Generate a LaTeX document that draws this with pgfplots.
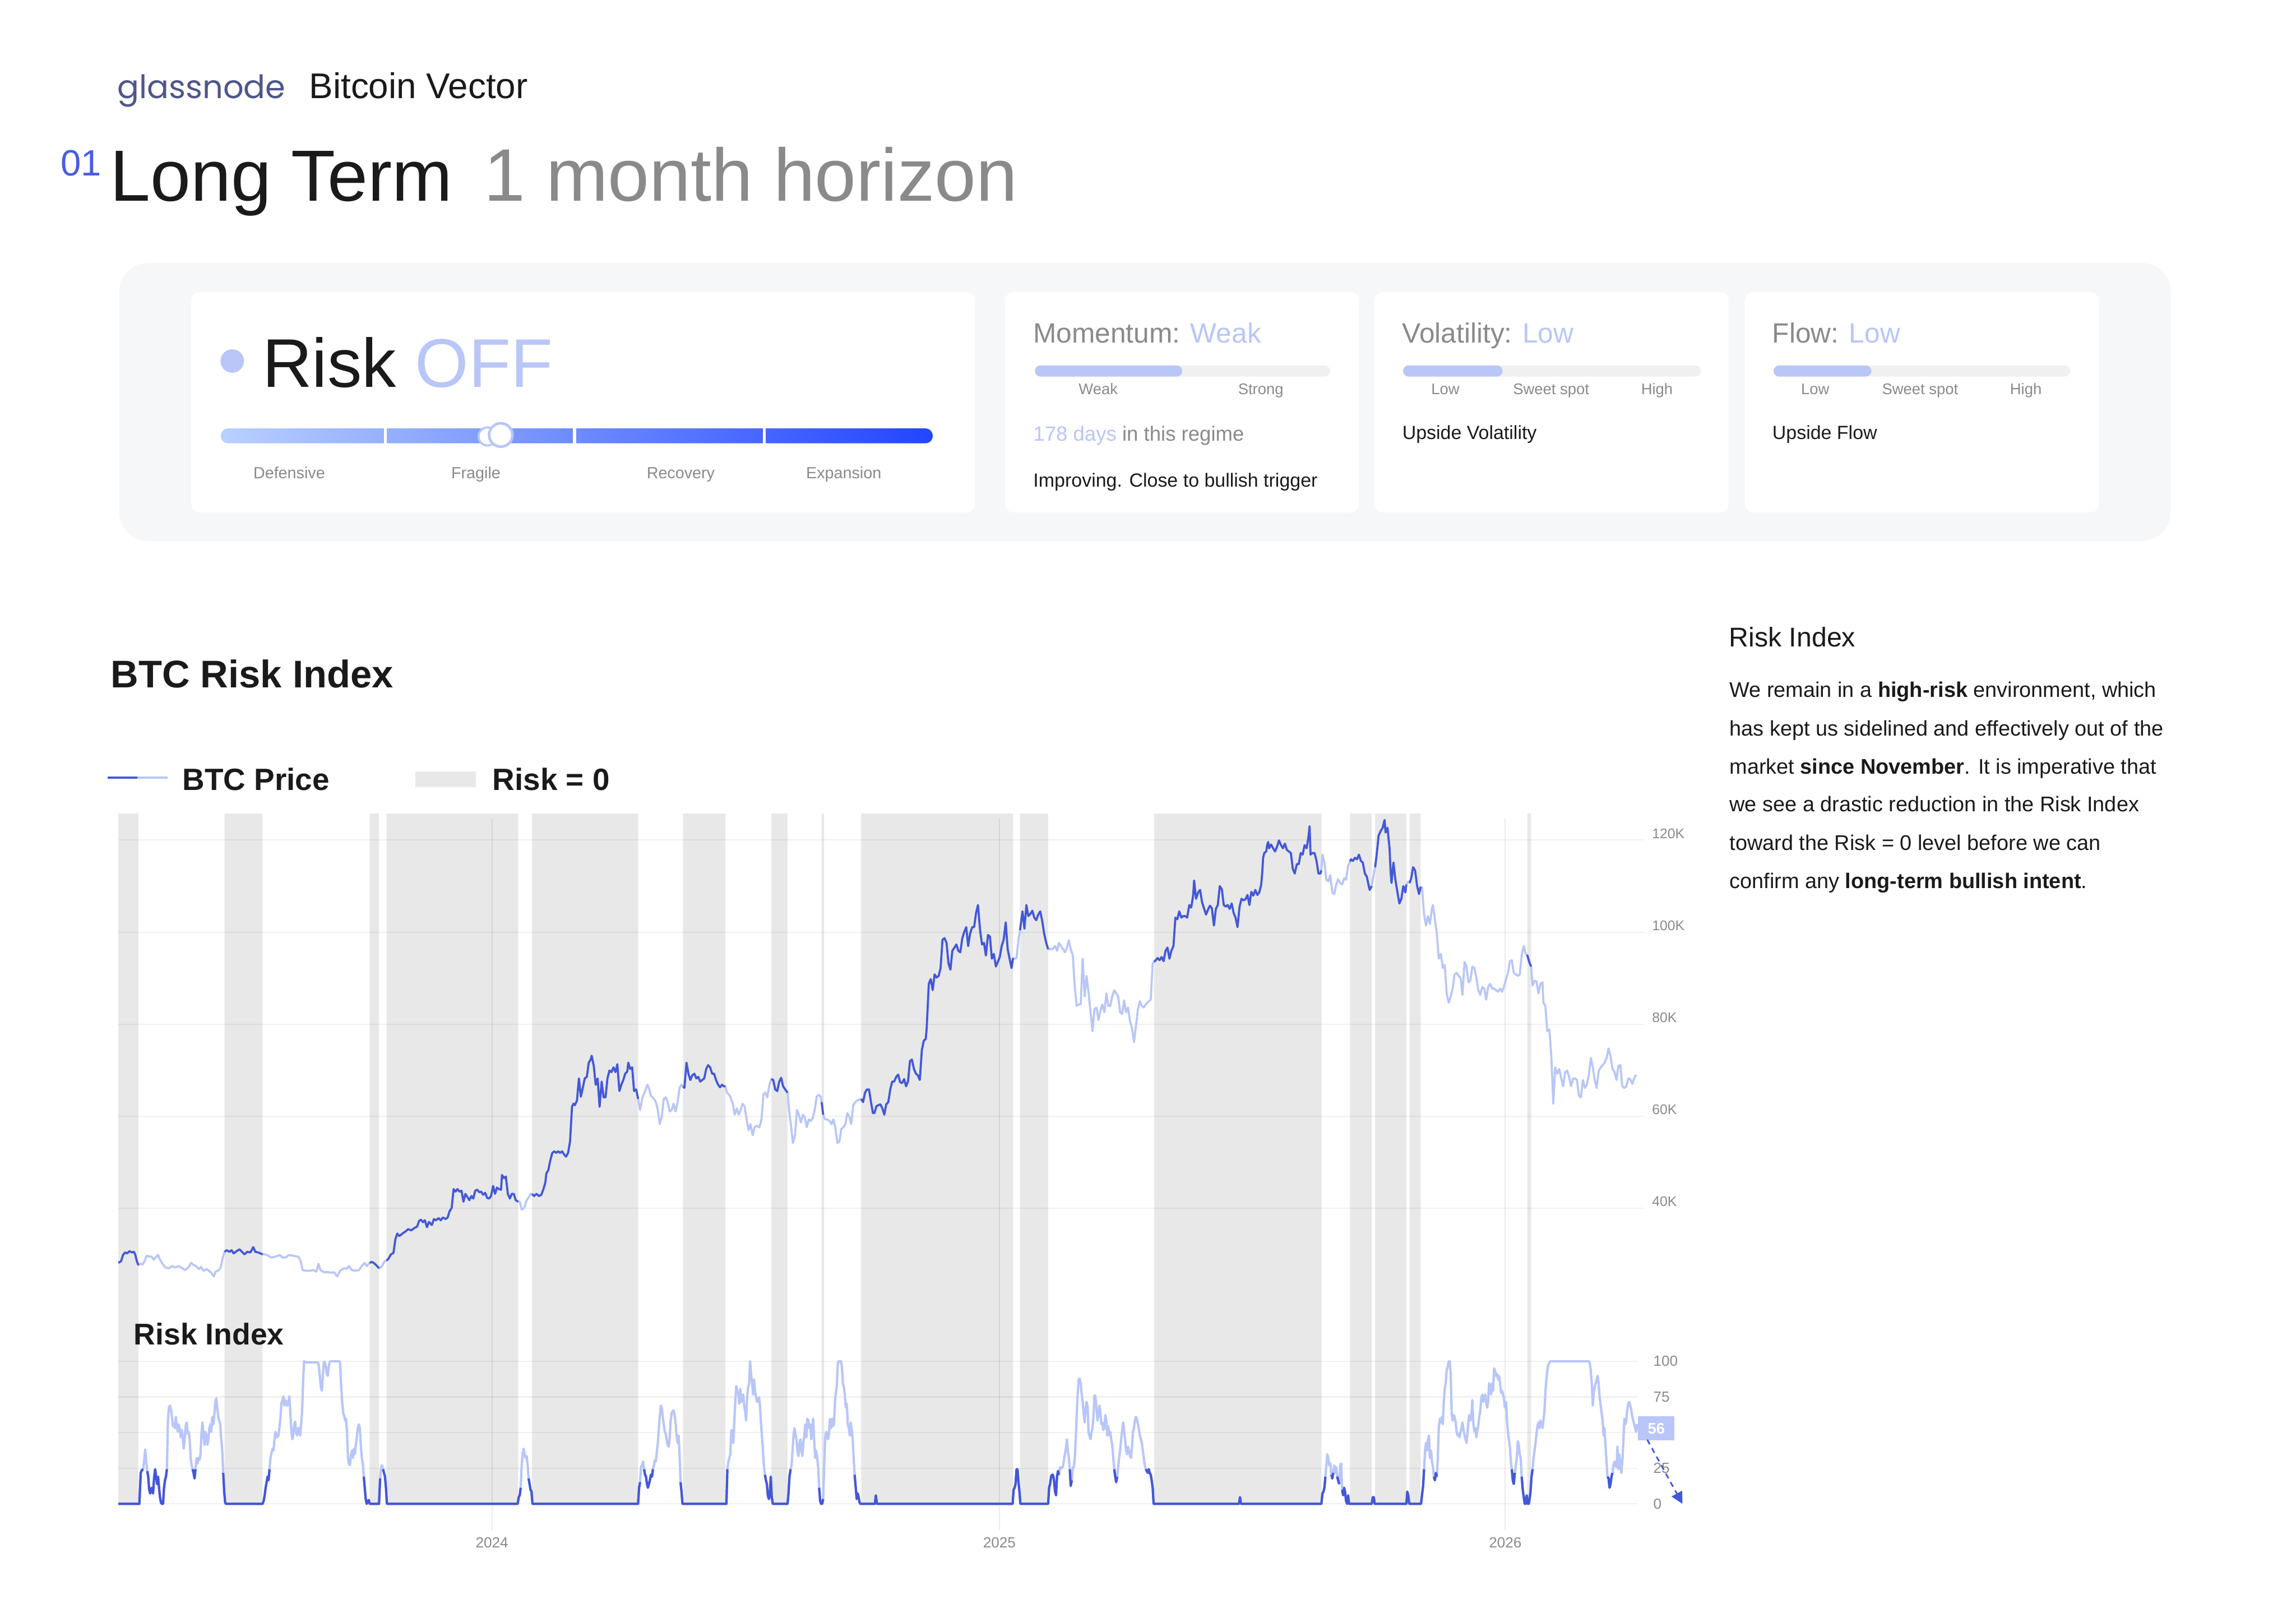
\documentclass[border=0pt]{standalone}
\usepackage{fontspec}
\setmainfont{Liberation Sans}
\newfontfamily\poppins{Poppins}
\usepackage{pgfplots}
\pgfplotsset{compat=1.18}
\usepackage{pgfplotstable}
\usetikzlibrary{arrows.meta}
\definecolor{dblue}{HTML}{4358D8}
\definecolor{lblue}{HTML}{B8C6F8}
\definecolor{bandgray}{HTML}{E8E8E8}
\definecolor{panelbg}{HTML}{F6F7F9}
\definecolor{txtgray}{HTML}{8A8A8A}
\definecolor{darktxt}{HTML}{1A1A1A}
\definecolor{gnode}{HTML}{4E568A}
\definecolor{numblue}{HTML}{4A5DE0}
\definecolor{track}{HTML}{F0F0F0}
\definecolor{slA}{HTML}{B9D0FF}
\definecolor{slB}{HTML}{2245FF}
\newcommand{\fs}[1]{\fontsize{#1}{#1}\selectfont}

\pgfplotstableread{
d p m
-269.6 28.15 1
-267.6 28.49 1
-266.2 29.86 1
-264.7 30.41 1
-263.3 30.20 1
-261.5 30.68 1
-259.8 30.41 1
-258.3 30.55 1
-257.3 29.86 1
-256.2 28.49 1
-255.1 27.67 1
-253.4 27.95 0
-251.9 27.81 0
-250.5 28.63 0
-249.1 29.72 0
-247.3 29.52 0
-245.5 29.52 0
-244.1 28.83 0
-242.7 29.31 0
-240.9 29.86 0
-239.5 28.83 0
-237.7 27.95 0
-235.6 27.12 0
-233.1 26.98 0
-230.6 27.46 0
-228.4 27.12 0
-226.0 27.46 0
-223.5 26.98 0
-221.3 26.57 0
-218.8 27.26 0
-217.1 28.15 0
-215.3 27.67 0
-213.5 27.46 0
-211.4 26.78 0
-209.9 27.26 0
-208.2 26.44 0
-205.7 26.78 0
-202.8 26.09 0
-200.7 25.20 0
-199.3 26.30 0
-197.5 26.44 0
-195.7 27.12 0
-194.3 29.18 0
-192.9 30.55 1
-191.4 30.89 1
-189.3 30.55 1
-187.9 30.89 1
-186.4 30.20 1
-184.3 30.68 1
-182.2 31.09 1
-180.8 30.68 1
-178.6 30.00 1
-176.5 30.55 1
-174.3 30.41 1
-172.2 31.57 1
-170.8 30.55 1
-168.7 30.41 1
-165.5 30.00 1
-163.7 30.00 0
-161.5 29.72 0
-159.4 29.31 0
-156.6 29.45 0
-153.0 29.86 0
-151.2 29.31 0
-148.7 29.31 0
-146.6 29.86 0
-144.1 29.72 0
-141.6 29.59 0
-139.5 29.45 0
-138.0 28.49 0
-136.6 26.57 0
-134.5 26.44 0
-131.6 26.44 0
-128.8 26.57 0
-126.7 26.23 0
-125.2 27.95 0
-123.8 26.57 0
-121.0 26.09 0
-118.8 26.16 0
-116.0 26.02 0
-113.8 26.09 0
-111.7 25.20 0
-109.6 26.44 0
-106.7 26.98 0
-104.6 26.85 0
-103.2 27.46 0
-101.0 26.57 0
-98.9 26.44 0
-96.0 26.57 0
-93.9 27.46 0
-91.8 28.15 0
-90.4 27.46 0
-88.2 28.15 1
-86.8 28.35 1
-85.4 28.15 1
-83.6 27.67 1
-81.5 26.98 1
-79.7 27.26 0
-77.5 28.49 0
-76.1 28.63 1
-74.7 29.04 1
-72.9 30.00 1
-71.1 30.28 1
-69.7 33.29 1
-68.3 34.52 1
-66.9 33.97 1
-65.4 34.31 1
-64.0 34.66 1
-62.2 35.00 1
-60.5 35.48 1
-58.3 35.20 1
-56.2 35.68 1
-54.0 36.03 1
-52.6 37.26 1
-51.2 37.53 1
-49.8 36.98 1
-48.4 37.39 1
-46.9 35.89 1
-45.5 37.05 1
-43.4 36.37 1
-41.9 37.67 1
-40.5 37.39 1
-38.4 37.87 1
-37.0 37.39 1
-35.5 38.00 1
-33.4 37.67 1
-32.0 38.00 1
-30.6 39.37 1
-29.1 40.06 1
-27.7 44.17 1
-26.3 43.62 1
-24.9 44.17 1
-23.4 43.62 1
-22.0 43.83 1
-20.6 41.43 1
-19.2 43.14 1
-17.8 42.46 1
-16.3 41.77 1
-14.9 42.66 1
-13.5 42.12 1
-12.1 43.83 1
-10.6 44.03 1
-9.2 43.49 1
-7.8 43.62 1
-6.4 42.94 1
-4.9 43.35 1
-3.5 42.25 1
-2.1 42.12 1
-0.7 42.66 1
0.8 44.85 1
2.2 43.14 1
3.6 44.51 1
5.0 44.17 1
6.5 44.03 1
7.2 47.24 1
8.6 46.56 1
10.0 46.90 1
11.4 43.14 1
12.9 42.12 1
14.3 43.14 1
15.7 43.14 1
17.1 41.77 1
18.9 41.43 1
20.0 41.43 0
21.4 39.72 0
23.2 40.06 0
25.0 41.77 0
26.7 42.46 0
27.8 43.14 0
28.9 43.14 1
30.3 42.66 1
32.1 43.14 1
33.9 42.66 1
35.6 42.94 1
37.1 44.17 1
38.5 45.62 1
39.2 47.59 1
40.6 48.27 1
42.0 50.33 1
43.5 52.04 1
44.9 52.38 1
46.3 52.04 1
47.7 52.38 1
49.2 52.04 1
50.6 52.38 1
52.0 51.70 1
53.4 51.22 1
54.9 52.04 1
56.3 54.52 1
57.7 62.05 1
58.8 62.74 1
59.8 62.40 1
61.3 63.43 1
62.7 68.22 1
64.1 64.25 1
65.5 66.16 1
66.9 68.22 1
68.4 68.56 1
69.8 71.64 1
71.2 72.33 1
71.9 73.15 1
73.4 70.96 1
74.8 66.85 1
76.2 68.22 1
77.6 62.05 1
79.1 67.53 1
80.5 64.11 1
81.9 64.11 1
83.3 68.22 1
84.7 69.93 1
86.2 69.59 1
87.6 70.62 1
89.0 69.59 1
90.4 71.30 1
91.9 65.48 1
93.3 66.85 1
94.7 67.88 1
96.1 69.25 1
97.6 69.73 1
98.3 71.64 1
99.7 70.27 1
101.1 70.62 1
102.5 65.48 1
104.0 65.82 1
105.4 63.77 1
106.8 61.37 0
108.6 64.11 0
110.4 65.48 0
112.2 66.85 0
113.2 66.16 0
114.6 64.45 0
116.8 63.77 0
118.2 63.08 0
119.6 61.37 0
121.0 58.29 0
122.5 60.00 0
123.9 63.77 0
125.3 64.11 0
126.7 63.08 0
128.2 61.03 0
129.6 61.37 0
131.0 62.74 0
132.4 61.03 0
133.9 63.08 0
135.3 66.16 0
136.7 66.85 0
137.8 66.51 1
138.8 66.16 1
140.3 71.64 1
141.7 69.25 1
143.1 67.88 1
144.5 68.90 1
146.0 69.25 1
147.4 68.22 1
148.8 68.56 1
150.2 67.53 1
151.7 67.88 1
153.1 68.22 1
154.5 70.27 1
155.9 71.10 1
157.4 70.62 1
158.8 69.25 1
160.2 69.25 1
161.6 67.88 1
163.1 66.85 1
164.5 66.30 1
165.9 66.85 1
167.3 66.51 1
168.4 66.51 1
169.5 65.14 0
171.6 64.45 0
173.7 62.74 0
175.1 60.34 0
176.6 61.71 0
178.0 60.34 0
179.4 61.37 0
180.8 62.74 0
182.3 62.05 0
183.7 59.31 0
185.1 56.92 0
186.5 58.29 0
188.0 55.89 0
189.4 57.60 0
190.8 57.94 0
192.9 57.60 0
194.4 59.31 0
195.8 64.79 0
197.2 65.14 0
198.6 64.11 0
200.1 66.85 0
201.5 68.08 1
202.9 67.88 1
204.3 65.82 1
205.8 65.48 1
207.2 67.53 1
208.6 68.36 1
210.0 66.51 1
211.5 65.82 1
213.2 65.14 1
214.3 61.37 0
215.7 57.94 0
217.1 54.18 0
218.6 55.89 0
220.0 61.37 0
221.4 60.34 0
222.8 58.63 0
224.3 60.34 0
225.7 59.66 0
227.1 57.60 0
228.5 59.31 0
230.0 58.97 0
231.4 59.66 0
232.8 61.37 0
234.2 64.25 0
235.7 64.66 0
237.1 64.25 0
237.8 63.08 1
238.9 60.34 1
239.6 59.66 0
240.6 59.31 0
242.1 59.31 0
243.5 58.97 0
244.9 58.29 0
246.3 59.31 0
247.8 57.26 0
249.2 54.18 0
250.6 54.52 0
252.0 57.26 0
253.5 57.60 0
254.9 58.29 0
256.3 60.68 0
257.7 60.00 0
259.1 58.29 0
260.6 62.40 0
262.0 63.08 0
263.4 63.43 0
264.8 63.56 0
266.3 63.77 1
267.7 63.08 1
269.1 65.14 1
270.5 65.82 1
272.0 65.82 1
273.4 63.08 1
274.8 60.68 1
275.9 60.68 1
277.3 62.19 1
278.7 62.40 1
280.2 62.60 1
281.6 61.71 1
283.0 60.34 1
284.4 62.60 1
285.9 63.08 1
287.3 65.82 1
288.7 67.53 1
290.1 67.53 1
291.6 68.56 1
293.0 69.04 1
294.4 67.40 1
295.8 67.19 1
297.3 68.08 1
298.7 66.51 1
300.1 67.53 1
301.5 71.98 1
302.9 72.33 1
304.4 70.27 1
305.8 69.25 1
307.2 68.90 1
308.6 67.88 1
310.1 74.38 1
311.5 76.44 1
312.9 76.78 1
313.6 79.18 1
315.1 88.77 1
316.5 89.79 1
317.9 87.40 1
319.3 90.82 1
320.7 90.14 1
322.2 90.48 1
323.6 92.19 1
325.0 98.35 1
326.4 98.70 1
327.9 97.67 1
329.3 93.22 1
330.7 91.85 1
332.1 95.96 1
333.6 96.64 1
335.0 97.33 1
336.4 95.96 1
337.8 95.61 1
339.3 98.70 1
340.7 100.07 1
342.1 101.09 1
343.5 96.98 1
344.9 99.72 1
346.4 101.09 1
347.8 101.09 1
349.2 104.18 1
350.6 105.89 1
352.1 100.41 1
353.5 97.33 1
354.9 97.67 1
356.3 94.93 1
357.8 99.38 1
359.2 99.04 1
360.6 94.24 1
362.0 95.27 1
363.5 92.53 1
364.9 93.56 1
366.3 94.59 1
367.7 97.01 1
369.1 98.35 1
370.6 102.12 1
372.0 96.30 1
373.4 94.24 1
374.8 92.19 1
375.9 94.38 1
377.0 94.24 0
378.4 94.38 0
379.8 98.35 0
380.9 100.41 1
382.7 104.52 1
384.1 100.75 1
385.5 105.89 1
386.9 103.49 1
388.4 103.97 1
389.8 104.66 1
391.2 103.15 1
392.6 102.60 1
394.1 103.83 1
395.5 104.52 1
396.9 102.46 1
398.3 99.72 1
399.8 97.67 1
401.2 96.30 1
402.6 96.30 0
404.0 96.30 0
406.2 96.98 0
407.6 95.96 0
409.0 97.67 0
410.4 96.98 0
411.9 96.30 0
413.3 95.61 0
414.7 96.64 0
416.1 98.22 0
417.5 96.30 0
419.0 94.93 0
420.4 88.08 0
421.8 83.97 0
423.2 84.31 0
424.7 84.31 0
426.1 94.24 0
427.5 86.03 0
428.9 90.48 0
430.4 86.71 0
431.8 82.60 0
433.2 78.49 0
434.6 83.29 0
436.1 83.63 0
437.5 80.89 0
438.9 82.94 0
440.3 84.31 0
441.8 82.60 0
443.2 86.71 0
444.6 83.97 0
446.0 83.97 0
447.4 86.03 0
448.9 87.40 0
450.3 86.71 0
451.7 86.03 0
453.1 82.60 0
454.6 82.26 0
456.0 85.20 0
457.4 82.60 0
458.8 83.63 0
460.3 80.55 0
461.7 79.18 0
463.1 76.10 0
464.5 79.52 0
466.0 83.29 0
467.4 84.99 0
468.8 83.97 0
470.2 83.63 0
471.6 84.31 0
473.1 84.79 0
475.2 85.34 0
476.6 93.22 0
477.7 93.56 1
478.8 93.90 1
480.2 94.38 1
481.6 93.90 1
483.0 94.59 1
484.5 93.70 1
485.9 95.96 1
487.3 96.64 1
488.7 94.24 1
490.1 95.96 1
491.6 96.98 1
493.0 103.15 1
494.4 102.81 1
495.8 104.52 1
497.3 103.15 1
498.7 103.49 1
500.1 103.49 1
501.5 103.15 1
503.0 105.89 1
504.4 105.34 1
505.8 107.94 1
506.5 111.23 1
507.9 107.26 1
509.4 108.63 1
510.8 109.18 1
512.2 106.57 1
513.6 105.20 1
515.1 103.83 1
516.5 104.86 1
517.9 105.75 1
519.3 105.20 1
520.8 101.44 1
522.2 105.07 1
523.6 105.89 1
525.0 110.00 1
526.5 109.31 1
527.9 105.89 1
529.3 105.55 1
530.7 105.89 1
532.1 105.07 1
533.6 106.23 1
535.0 104.18 1
536.4 103.15 1
537.8 101.09 1
539.3 105.55 1
540.7 107.26 1
542.1 106.92 1
543.5 107.12 1
545.0 108.08 1
546.4 105.89 1
547.8 108.76 1
549.2 107.94 1
550.7 109.18 1
552.1 108.08 1
553.5 108.63 1
554.9 110.34 1
555.6 112.74 1
556.3 116.16 1
557.1 117.19 1
558.5 117.53 1
559.2 118.90 1
559.9 119.59 1
560.6 118.22 1
562.0 119.04 1
563.5 118.22 1
564.9 117.53 1
566.3 118.56 1
567.7 119.93 1
569.2 118.90 1
570.6 118.22 1
572.0 119.24 1
573.4 117.87 1
574.9 117.53 1
576.3 117.19 1
577.7 113.76 1
579.1 112.74 1
580.6 114.79 1
582.0 114.79 1
583.4 117.19 1
584.8 116.85 1
586.2 118.90 1
587.7 118.22 1
589.1 120.96 1
589.8 123.01 1
590.5 116.85 1
591.9 117.19 1
593.4 117.19 1
594.8 115.48 1
596.2 112.74 1
597.6 112.74 1
598.3 113.42 1
599.1 116.85 0
600.5 115.13 0
601.9 111.37 0
603.3 111.03 0
604.7 112.39 0
606.2 108.63 0
607.6 108.29 0
609.0 110.34 0
610.4 111.50 0
611.9 110.68 0
613.3 110.34 0
614.7 111.71 0
616.1 111.37 0
617.6 114.45 0
619.0 115.34 1
619.7 115.82 1
621.1 115.48 1
622.5 116.16 1
624.0 115.82 1
625.4 116.85 1
626.8 115.48 1
628.2 115.13 1
629.7 112.74 1
631.1 112.05 1
632.5 110.00 1
633.2 109.18 1
634.6 110.00 1
636.1 112.74 0
637.1 114.11 1
638.2 116.85 1
639.6 120.96 1
641.1 121.98 1
642.5 122.67 1
643.9 124.38 1
644.6 121.64 1
646.0 122.67 1
647.5 118.22 1
648.2 113.42 1
648.9 110.68 1
650.3 115.13 1
651.7 111.37 1
653.2 108.63 1
654.6 106.23 1
656.0 107.26 1
657.4 110.00 1
658.9 108.63 1
659.6 110.34 1
661.0 111.03 0
662.0 110.68 1
663.1 111.71 1
664.5 114.11 1
665.9 113.42 1
667.4 110.00 1
668.8 108.29 1
669.9 109.86 1
670.9 109.65 0
672.4 103.83 0
673.8 101.44 0
675.2 103.49 0
676.6 101.78 0
678.1 105.20 0
678.8 105.89 0
680.2 102.81 0
681.6 99.72 0
683.0 94.24 0
684.5 95.27 0
685.9 92.19 0
687.3 92.88 0
688.7 86.71 0
690.2 84.66 0
691.6 86.03 0
693.0 87.74 0
694.4 90.82 0
695.9 91.16 0
697.3 90.48 0
698.7 90.14 0
700.1 86.37 0
701.6 93.56 0
703.0 92.53 0
704.4 89.11 0
705.8 89.45 0
707.2 92.53 0
708.7 92.19 0
710.1 90.14 0
711.5 87.40 0
712.9 86.37 0
714.4 88.08 0
715.8 87.74 0
717.2 85.34 0
718.6 88.08 0
720.1 88.77 0
721.5 87.74 0
722.9 87.74 0
724.3 87.40 0
725.8 87.05 0
727.2 87.74 0
728.6 87.05 0
730.0 88.08 0
731.5 89.79 0
732.9 91.16 0
734.3 93.70 0
735.7 93.90 0
737.1 91.16 0
738.6 90.82 0
740.0 90.48 0
741.4 90.82 0
742.8 94.93 0
744.3 96.98 0
745.7 95.27 0
746.8 95.07 1
748.2 93.56 1
749.6 92.53 1
750.7 88.42 0
752.1 89.45 0
753.5 89.31 0
754.9 86.71 0
756.4 88.77 0
757.8 89.11 0
758.5 84.66 0
759.9 83.97 0
761.3 78.49 0
762.8 78.84 0
764.2 73.01 0
765.6 62.74 0
767.0 70.62 0
768.5 69.25 0
769.9 70.27 0
771.3 68.22 0
772.7 66.51 0
774.2 69.59 0
775.6 69.93 0
777.0 68.56 0
778.4 66.51 0
779.9 68.22 0
781.3 68.22 0
782.7 67.88 0
784.1 64.45 0
785.5 64.11 0
787.0 67.88 0
788.4 66.16 0
789.8 66.85 0
791.2 68.90 0
792.7 72.67 0
794.1 70.62 0
795.5 67.88 0
796.9 66.16 0
798.4 69.93 0
799.8 70.62 0
801.2 71.10 0
802.6 71.64 0
804.1 72.67 0
805.5 74.73 0
806.9 73.01 0
808.3 70.27 0
809.8 69.59 0
811.2 67.88 0
812.6 70.96 0
814.0 71.10 0
815.4 66.51 0
816.9 66.16 0
818.3 66.51 0
819.7 68.22 0
821.1 68.08 0
822.6 66.99 0
824.0 68.22 0
825.4 69.04 0
}\pricedata

\pgfplotstableread{
d r
-269.6 0
-254.4 0
-253.4 21.7
-252.6 23.7
-251.6 24.3
-250.9 30.9
-250.2 38.1
-249.4 29.6
-248.7 23.0
-248.0 19.1
-247.3 9.9
-246.6 7.3
-245.5 11.3
-244.5 7.3
-243.7 19.1
-243.0 24.3
-242.3 19.1
-241.6 13.9
-240.9 19.1
-240.2 11.3
-239.5 4.7
-238.8 0.8
-238.1 0
-237.3 0
-236.6 11.3
-235.9 16.5
-235.2 19.1
-234.5 24.3
-233.8 58.4
-233.1 67.5
-232.4 68.9
-231.6 66.2
-230.9 61.0
-230.2 54.5
-229.5 55.8
-228.8 53.1
-228.1 61.0
-227.4 54.5
-226.7 50.5
-226.0 55.8
-225.2 51.8
-224.5 46.6
-223.8 51.8
-223.1 46.6
-222.4 38.7
-221.7 45.3
-221.0 54.5
-220.3 57.1
-219.5 49.2
-218.8 50.5
-218.1 45.3
-217.4 32.2
-216.7 27.0
-216.0 24.3
-215.3 21.7
-214.6 17.8
-213.9 24.3
-213.1 32.2
-212.4 28.3
-211.7 32.2
-211.0 30.9
-210.3 34.8
-209.6 49.2
-208.9 57.1
-208.2 49.2
-207.4 41.4
-206.7 50.5
-206.0 47.9
-205.3 41.4
-204.6 45.3
-203.9 53.1
-203.2 55.8
-202.5 50.5
-201.8 61.0
-201.0 55.8
-200.3 62.3
-199.6 71.5
-198.9 74.1
-198.2 67.5
-197.5 61.0
-196.8 58.4
-196.1 55.8
-195.3 45.3
-194.6 37.4
-193.9 21.7
-193.2 8.6
-192.5 0.8
-191.8 0
-165.5 0
-164.7 2.1
-164.0 6.0
-163.3 11.3
-162.6 15.2
-161.9 19.1
-161.2 16.5
-160.5 24.3
-159.8 32.2
-159.0 36.1
-158.3 38.7
-157.6 37.4
-156.9 45.3
-156.2 50.5
-155.5 47.9
-154.8 46.6
-154.1 47.9
-153.4 53.1
-152.6 61.0
-151.9 70.2
-151.2 72.8
-150.5 75.4
-149.8 68.9
-149.1 72.8
-148.4 71.5
-147.7 68.9
-146.9 71.5
-146.2 75.4
-145.5 64.9
-144.8 51.8
-144.1 45.3
-143.4 47.9
-142.7 55.8
-142.0 57.7
-141.2 49.2
-140.5 47.9
-139.8 53.1
-139.1 53.1
-138.4 47.9
-137.7 55.8
-137.0 64.9
-136.3 84.6
-135.6 100
-134.8 99.6
-133.4 99.2
-126.3 99.2
-125.6 99.2
-124.9 96.3
-124.2 89.8
-123.5 81.9
-122.7 79.3
-122.0 89.8
-121.3 99.6
-120.6 99.2
-119.9 96.3
-119.2 91.1
-118.5 89.8
-117.8 96.3
-117.0 99.6
-116.3 100
-110.3 100
-109.6 99.2
-108.9 84.6
-108.1 71.5
-107.4 63.6
-106.7 62.3
-106.0 58.4
-105.3 59.7
-104.6 50.5
-103.9 32.2
-103.2 28.3
-102.5 27.0
-101.7 34.8
-101.0 37.4
-100.3 32.2
-99.6 38.7
-98.9 34.8
-98.2 41.4
-97.5 46.6
-96.8 53.1
-96.1 55.8
-95.3 53.1
-94.6 40.1
-93.9 32.2
-93.2 28.3
-92.5 19.1
-91.8 11.3
-91.1 3.4
-90.4 0
-89.6 2.1
-88.9 2.7
-88.2 0
-81.5 0
-80.7 17.8
-80.0 25.7
-79.3 27.0
-78.6 24.3
-77.9 21.7
-77.2 19.1
-76.5 11.3
-75.8 0
18.5 0
19.3 4.7
20.0 6.0
20.7 11.3
21.4 27.0
22.1 34.8
22.8 38.7
23.5 34.8
24.2 32.2
25.0 33.5
25.7 27.0
26.4 17.8
27.1 13.9
27.8 9.9
28.5 8.6
29.2 0
105.4 0
106.1 11.3
106.8 15.2
107.5 25.7
108.2 27.0
109.0 29.6
109.7 24.3
110.4 20.4
111.1 19.1
111.8 13.9
112.5 11.3
113.2 13.9
113.9 16.5
114.6 20.4
115.4 19.1
116.1 24.3
116.8 27.0
117.5 30.9
118.2 29.6
118.9 36.1
119.6 42.7
120.3 51.8
121.0 61.0
121.8 68.9
122.5 67.5
123.2 61.0
123.9 55.8
124.6 50.5
125.3 49.2
126.0 45.3
126.7 41.4
127.5 40.1
128.2 46.6
128.9 58.4
129.6 63.6
130.3 64.9
131.0 65.6
131.7 62.3
132.4 57.1
133.1 47.9
133.9 42.7
134.6 47.9
135.3 34.8
136.0 15.2
136.7 8.6
137.4 0
169.1 0
169.8 24.3
170.5 29.6
171.2 32.2
171.9 34.8
172.7 51.8
173.4 47.9
174.1 42.7
174.8 58.4
175.5 71.5
176.2 82.6
176.9 79.3
177.6 78.0
178.4 70.2
179.1 80.6
179.8 71.5
180.5 75.4
181.2 76.7
181.9 68.9
182.6 64.9
183.3 58.4
184.1 75.4
184.8 81.9
185.5 84.6
186.2 100
186.9 91.1
187.6 84.6
188.3 76.7
189.0 87.2
189.7 79.3
190.4 75.4
191.2 71.5
191.9 72.8
192.6 74.7
193.3 68.9
194.0 57.1
194.7 47.9
195.4 38.7
196.1 27.0
196.9 20.4
197.6 16.5
198.3 13.9
199.0 6.0
199.7 3.4
200.4 6.0
201.1 19.1
201.8 4.7
202.6 0
213.2 0
213.9 7.3
214.6 19.1
215.4 24.3
216.1 27.0
216.8 37.4
217.5 47.9
218.2 53.1
218.9 49.2
219.6 45.3
220.3 37.4
221.1 33.5
221.8 42.7
222.5 45.3
223.2 37.4
223.9 33.5
224.6 42.7
225.3 47.9
226.0 55.8
226.8 46.6
227.5 59.7
228.2 58.4
228.9 53.1
229.6 55.8
230.3 45.3
231.0 53.1
231.7 59.7
232.5 42.7
233.2 32.2
233.9 37.4
234.6 32.2
235.3 25.7
236.0 11.3
236.7 2.1
237.4 0
238.1 0
238.9 3.4
239.6 25.7
240.3 45.3
241.0 50.5
241.7 49.2
242.4 45.3
243.1 49.2
243.8 59.7
244.6 53.1
245.3 59.7
246.0 54.5
246.7 55.8
247.4 71.5
248.1 78.0
248.8 83.3
249.5 99.0
250.2 100
251.0 99.6
251.7 100
252.4 96.3
253.1 84.6
253.8 81.9
254.5 76.7
255.2 67.5
255.9 70.2
256.7 55.8
257.4 53.1
258.1 47.9
258.8 57.1
259.5 51.8
260.2 45.3
260.9 32.2
261.6 20.4
262.4 11.3
263.1 3.4
263.8 7.3
264.5 4.7
265.2 0.8
265.9 0
276.2 0
276.9 6.0
277.7 0
375.6 0
376.3 9.9
377.0 11.3
377.7 13.9
378.4 24.3
379.1 24.3
379.8 15.2
380.5 8.6
381.2 0
401.2 0
401.9 11.3
402.6 13.9
403.3 19.1
404.0 20.4
404.7 20.4
405.4 16.5
406.2 8.6
406.9 6.0
407.6 19.1
408.3 23.0
409.0 20.4
409.7 25.7
410.4 24.3
411.1 25.7
411.9 25.7
412.6 30.9
413.3 34.8
414.0 38.7
414.7 45.3
415.4 37.4
416.1 32.2
416.8 24.3
417.5 12.6
418.3 16.5
419.0 25.7
419.7 25.7
420.4 32.2
421.1 45.3
421.8 62.3
422.5 76.7
423.2 87.2
423.9 87.8
424.7 84.6
425.4 76.7
426.1 71.5
426.8 63.6
427.5 57.1
428.2 66.2
428.9 71.5
429.6 68.9
430.4 49.2
431.1 47.9
431.8 45.3
432.5 50.5
433.2 53.1
433.9 61.0
434.6 76.1
435.3 75.4
436.1 66.2
436.8 58.4
437.5 63.6
438.2 68.9
438.9 63.6
439.6 55.8
440.3 57.1
441.0 51.8
441.8 53.1
442.5 62.3
443.2 58.4
443.9 47.9
444.6 54.5
445.3 47.9
446.0 50.5
446.7 45.3
447.4 41.4
448.2 32.2
448.9 24.3
449.6 19.1
450.3 15.2
451.0 19.1
451.7 25.7
452.4 32.2
453.1 37.4
453.9 45.3
454.6 51.8
455.3 57.1
456.0 51.8
456.7 45.3
457.4 37.4
458.1 34.8
458.8 40.1
459.5 37.4
460.3 33.5
461.0 32.2
461.7 40.1
462.4 50.5
463.1 53.1
463.8 58.4
464.5 61.0
465.2 59.7
466.0 55.8
466.7 51.8
467.4 47.9
468.1 45.3
468.8 42.7
469.5 37.4
470.2 32.2
470.9 27.0
471.6 24.3
472.4 23.0
473.1 21.7
473.8 24.3
474.5 21.7
475.2 20.4
475.9 16.5
476.6 11.3
477.3 0
538.9 0
539.6 4.7
540.3 0
598.3 0
599.1 7.3
599.8 8.6
600.5 11.3
601.2 19.1
601.9 27.0
602.6 34.8
603.3 32.2
604.0 27.0
604.8 28.3
605.5 20.4
606.2 17.8
606.9 21.7
607.6 27.0
608.3 21.7
609.0 25.7
609.7 19.1
610.4 16.5
611.2 13.9
611.9 27.0
612.6 28.3
613.3 9.9
614.0 6.0
614.7 11.3
615.4 8.6
616.1 2.1
616.9 0
617.6 6.0
618.3 0
634.6 0
635.4 4.7
636.1 4.7
636.8 0
659.6 0
660.3 8.6
661.0 6.0
661.7 0
670.2 0
670.9 6.0
671.7 12.6
672.4 24.3
673.1 37.4
673.8 42.7
674.5 37.4
675.2 45.3
675.9 47.9
676.6 32.2
677.4 37.4
678.1 29.6
678.8 25.7
679.5 19.1
680.2 16.5
680.9 21.7
681.6 19.1
682.3 32.2
683.0 53.1
683.8 59.7
684.5 57.1
685.2 61.0
685.9 55.8
686.6 71.5
687.3 80.6
688.0 84.6
688.7 93.7
689.5 96.3
690.2 100
690.9 100
691.6 91.1
692.3 63.6
693.0 58.4
693.7 62.3
694.4 61.0
695.2 57.1
695.9 50.5
696.6 47.9
697.3 49.2
698.0 46.6
698.7 50.5
699.4 53.1
700.1 57.1
700.9 51.8
701.6 47.9
702.3 45.3
703.0 42.7
703.7 49.2
704.4 58.4
705.1 62.3
705.8 58.4
706.5 61.0
707.2 72.8
708.0 55.8
708.7 50.5
709.4 53.1
710.1 46.6
710.8 51.8
711.5 54.5
712.2 61.0
712.9 64.9
713.7 74.1
714.4 76.7
715.1 71.5
715.8 74.1
716.5 76.7
717.2 71.5
717.9 67.5
718.6 71.5
719.3 84.6
720.1 81.9
720.8 76.7
721.5 84.6
722.2 79.3
722.9 95.0
723.6 93.7
724.3 89.8
725.0 91.1
725.8 87.2
726.5 89.8
727.2 84.6
727.9 78.0
728.6 79.3
729.3 76.7
730.0 74.1
730.7 67.5
731.5 71.5
732.2 58.4
732.9 50.5
733.6 45.3
734.3 40.1
735.0 29.6
735.7 24.3
736.4 16.5
737.1 13.9
737.9 21.7
738.6 27.0
739.3 32.2
740.0 44.0
740.7 41.4
741.4 34.8
742.1 32.2
742.8 19.1
743.6 9.9
744.3 4.7
745.0 0
745.7 0
746.4 6.0
747.1 0
747.8 0
748.5 3.4
749.2 8.6
749.9 19.1
750.7 24.3
751.4 32.2
752.1 37.4
752.8 42.7
753.5 49.2
754.2 54.5
754.9 57.1
755.6 53.1
756.4 58.4
757.1 55.8
757.8 53.1
758.5 58.4
759.2 64.9
759.9 78.0
760.6 87.2
761.3 93.7
762.1 97.7
762.8 99.0
763.5 100
791.2 100
791.9 99.0
792.6 93.7
793.4 84.6
794.1 68.9
794.8 78.0
795.5 81.9
796.2 84.6
796.9 87.2
797.6 89.8
798.3 84.6
799.1 74.1
799.8 68.9
800.5 63.6
801.2 58.4
801.9 47.9
802.6 53.1
803.3 40.1
804.0 29.6
804.7 19.1
805.5 17.8
806.2 11.3
806.9 13.9
807.6 19.1
808.3 21.7
809.0 27.0
809.7 29.6
810.4 27.0
811.2 25.7
811.9 40.1
812.6 24.3
813.3 34.8
814.0 27.0
814.7 21.7
815.4 29.6
816.1 42.7
816.9 59.7
817.6 55.8
818.3 58.4
819.0 66.2
819.7 70.2
820.4 71.5
821.1 68.9
821.8 66.2
822.6 61.0
823.3 58.4
824.0 55.8
825.4 50.5
826.1 56.0
}\riskdata

\begin{document}
\begin{tikzpicture}[x=1pt,y=1pt]
\path[use as bounding box] (0,0) rectangle (1568,-1107.4);
\fill[white] (0,0) rectangle (1568,-1107.4);

% ---------- header ----------
\node[anchor=base west, inner sep=0pt, text=gnode, font=\poppins\fs{22}] at (80,-67) {glassnode};
\node[anchor=base west, inner sep=0pt, text=darktxt, font=\fs{24.4}] at (211,-67) {Bitcoin Vector};
\node[anchor=base west, inner sep=0pt, text=numblue, font=\fs{25}] at (41.2,-120) {01};
\node[anchor=base west, inner sep=0pt, text=darktxt, font=\fs{49.5}] at (75,-137.2) {Long Term};
\node[anchor=base west, inner sep=0pt, text=txtgray, font=\fs{50.8}] at (330.5,-137.2) {1 month horizon};

% ---------- status panel ----------
\fill[panelbg, rounded corners=20pt] (81.3,-179.6) rectangle (1482.5,-369.4);
\fill[white, rounded corners=6pt] (130.6,-199.3) rectangle (665.7,-349.9);
\fill[white, rounded corners=6pt] (686.3,-199.3) rectangle (928,-349.9);
\fill[white, rounded corners=6pt] (938.7,-199.3) rectangle (1180.4,-349.9);
\fill[white, rounded corners=6pt] (1191.7,-199.3) rectangle (1433.3,-349.9);

% card 1
\fill[lblue] (158.6,-246.5) circle (8);
\node[anchor=base west, inner sep=0pt, font=\fs{47}] at (179,-264.4) {\textcolor{darktxt}{Risk} \textcolor{lblue}{OFF}};
\shade[left color=slA, right color=slB, rounded corners=5pt] (150.8,-292.5) rectangle (637,-302.7);
\fill[white] (262.1,-291) rectangle (264.1,-304.2);
\fill[white] (391.3,-291) rectangle (393.4,-304.2);
\fill[white] (521,-291) rectangle (523,-304.2);
\draw[lblue, line width=1.4pt, fill=white] (333,-298) circle (6.2);
\draw[lblue, line width=1.8pt, fill=white] (342,-297) circle (8);
\foreach \xx/\tt in {197.5/Defensive, 325/Fragile, 464.9/Recovery, 576.2/Expansion}
  \node[anchor=base, inner sep=0pt, text=txtgray, font=\fs{11}] at (\xx,-326.7) {\tt};

% card 2
\node[anchor=base west, inner sep=0pt, font=\fs{19}] at (705.5,-234.2) {\textcolor{txtgray}{Momentum:} \textcolor{lblue}{Weak}};
\fill[track, rounded corners=3.8pt] (706.8,-249.5) rectangle (908.4,-257.1);
\fill[lblue, rounded corners=3.8pt] (706.8,-249.5) rectangle (807.4,-257.1);
\node[anchor=base, inner sep=0pt, text=txtgray, font=\fs{10.5}] at (750,-269.2) {Weak};
\node[anchor=base, inner sep=0pt, text=txtgray, font=\fs{10.5}] at (861,-269.2) {Strong};
\node[anchor=base west, inner sep=0pt, font=\fs{14}] at (705.5,-301) {\textcolor{lblue}{178 days} \textcolor{txtgray}{in this regime}};
\node[anchor=base west, inner sep=0pt, text=darktxt, font=\fs{13}] at (705.5,-332.4) {Improving. Close to bullish trigger};

% card 3
\node[anchor=base west, inner sep=0pt, font=\fs{19}] at (957.5,-234.2) {\textcolor{txtgray}{Volatility:} \textcolor{lblue}{Low}};
\fill[track, rounded corners=3.8pt] (958.2,-249.5) rectangle (1161.5,-257.1);
\fill[lblue, rounded corners=3.8pt] (958.2,-249.5) rectangle (1026.1,-257.1);
\node[anchor=base, inner sep=0pt, text=txtgray, font=\fs{10.5}] at (987.1,-269.2) {Low};
\node[anchor=base, inner sep=0pt, text=txtgray, font=\fs{10.5}] at (1059.3,-269.2) {Sweet spot};
\node[anchor=base, inner sep=0pt, text=txtgray, font=\fs{10.5}] at (1131.6,-269.2) {High};
\node[anchor=base west, inner sep=0pt, text=darktxt, font=\fs{13}] at (957.5,-299.9) {Upside Volatility};

% card 4
\node[anchor=base west, inner sep=0pt, font=\fs{19}] at (1210.2,-234.2) {\textcolor{txtgray}{Flow:} \textcolor{lblue}{Low}};
\fill[track, rounded corners=3.8pt] (1211.2,-249.5) rectangle (1413.8,-257.1);
\fill[lblue, rounded corners=3.8pt] (1211.2,-249.5) rectangle (1278,-257.1);
\node[anchor=base, inner sep=0pt, text=txtgray, font=\fs{10.5}] at (1239.6,-269.2) {Low};
\node[anchor=base, inner sep=0pt, text=txtgray, font=\fs{10.5}] at (1311.3,-269.2) {Sweet spot};
\node[anchor=base, inner sep=0pt, text=txtgray, font=\fs{10.5}] at (1383.5,-269.2) {High};
\node[anchor=base west, inner sep=0pt, text=darktxt, font=\fs{13}] at (1210.2,-299.9) {Upside Flow};

% ---------- chart titles & legend ----------
\node[anchor=base west, inner sep=0pt, text=darktxt, font=\bfseries\fs{26.3}] at (75.5,-469.5) {BTC Risk Index};
\draw[dblue, line width=1.6pt] (73.5,-531) -- (93.7,-531);
\draw[lblue, line width=1.6pt] (93.7,-531) -- (114.4,-531);
\node[anchor=base west, inner sep=0pt, text=darktxt, font=\bfseries\fs{21}] at (124.5,-539.4) {BTC Price};
\fill[bandgray] (283.6,-526.8) rectangle (325,-537.5);
\node[anchor=base west, inner sep=0pt, text=darktxt, font=\bfseries\fs{21}] at (336.2,-539.4) {Risk = 0};

% ---------- commentary ----------
\node[anchor=base west, inner sep=0pt, text=darktxt, font=\fs{18.5}] at (1180.6,-441.5) {Risk Index};
\begin{scope}[every node/.style={anchor=base west, inner sep=0pt, text=darktxt, font=\fs{14.5}}]
\node at (1181,-476.1) {We remain in a \textbf{high-risk} environment, which};
\node at (1181,-502.3) {has kept us sidelined and effectively out of the};
\node at (1181,-528.3) {market \textbf{since November}. It is imperative that};
\node at (1181,-554.3) {we see a drastic reduction in the Risk Index};
\node at (1181,-580.5) {toward the Risk = 0 level before we can};
\node at (1181,-606.6) {confirm any \textbf{long-term bullish intent}.};
\end{scope}

% ---------- Risk = 0 bands ----------
\begin{axis}[at={(80.78pt,-1027.5pt)}, anchor=south west, scale only axis,
  width=1037.4pt, height=472pt, xmin=-269.6, xmax=826.2, ymin=0, ymax=1,
  hide axis]
\addplot[const plot, fill=bandgray, draw=none] coordinates {
(-269.6,1) (-255.1,0) (-192.9,1) (-165.5,0) (-88.2,1) (-81.5,0) (-76.1,1) (18.9,0)
(28.9,1) (105.4,0) (137.8,1) (168.4,0) (201.5,1) (213.2,0) (237.8,1) (239.6,0)
(266.3,1) (375.9,0) (380.9,1) (401.2,0) (477.7,1) (598.4,0) (619.0,1) (634.7,0)
(637.1,1) (659.6,0) (662.0,1) (669.9,0) (746.8,1) (749.6,0) (826.2,0)} \closedcycle;
\end{axis}

% ---------- year grid & labels ----------
\begin{axis}[at={(80.78pt,-1044.5pt)}, anchor=south west, scale only axis,
  width=1037.4pt, height=485.5pt, xmin=-269.6, xmax=826.2, ymin=0, ymax=1,
  axis line style={draw=none}, major tick length=0pt, ytick=\empty,
  xtick={0,366,731}, xticklabels={2024,2025,2026}, xmajorgrids,
  major grid style={black, opacity=0.08, line width=0.8pt},
  xticklabel style={anchor=north, inner sep=0pt, yshift=-5pt, text=txtgray, font=\fs{10}}]
\addplot[draw=none] coordinates {(0,0.5)};
\end{axis}

% ---------- price panel ----------
\begin{axis}[at={(80.78pt,-887.85pt)}, anchor=south west, scale only axis,
  width=1042pt, height=333.1pt, xmin=-269.6, xmax=831.1, ymin=20, ymax=126,
  axis line style={draw=none}, major tick length=0pt, xtick=\empty,
  ytick={40,60,80,100,120}, yticklabels={40K,60K,80K,100K,120K},
  yticklabel pos=right, ymajorgrids,
  major grid style={black, opacity=0.06, line width=0.8pt},
  yticklabel style={anchor=west, inner sep=0pt, xshift=5.3pt, yshift=4.5pt, text=txtgray, font=\fs{9.5}}]
\addplot[lblue, line width=1.4pt, line join=round] table[x=d, y=p] {\pricedata};
\addplot[dblue, line width=1.4pt, line join=round, unbounded coords=jump,
  restrict expr to domain={\thisrow{m}}{0.5:1.5}] table[x=d, y=p] {\pricedata};
\end{axis}

% ---------- risk panel ----------
\begin{axis}[at={(80.78pt,-1031.67pt)}, anchor=south west, scale only axis,
  width=1037.4pt, height=107.1pt, xmin=-269.6, xmax=826.2, ymin=-5, ymax=105,
  axis line style={draw=none}, major tick length=0pt, xtick=\empty,
  ytick={0,25,50,75,100}, yticklabels={0,25,,75,100},
  yticklabel pos=right, ymajorgrids, clip=false,
  major grid style={black, opacity=0.06, line width=0.8pt},
  yticklabel style={anchor=west, inner sep=0pt, xshift=10.8pt, text=txtgray, font=\fs{10}}]
\addplot[lblue, line width=1.6pt, line join=round] table[x=d, y=r] {\riskdata};
\addplot[dblue, line width=1.6pt, line join=round, unbounded coords=jump,
  restrict y to domain=-1:25.5] table[x=d, y=r] {\riskdata};
\node[fill=lblue, text=white, font=\bfseries\fs{10.5}, minimum width=24.9pt, minimum height=16.5pt,
  inner sep=0pt, anchor=west] at (axis cs:826.6,52.9) {56};
\draw[dblue, line width=1.1pt, dash pattern=on 3.6pt off 3pt, -{Triangle[length=8pt,width=8pt]}]
  (axis cs:833.4,45) -- (axis cs:858.8,0);
\end{axis}

% ---------- risk panel title (over the bands) ----------
\node[anchor=base west, inner sep=0pt, text=darktxt, font=\bfseries\fs{20.5}] at (91.2,-918) {Risk Index};
\end{tikzpicture}
\end{document}
